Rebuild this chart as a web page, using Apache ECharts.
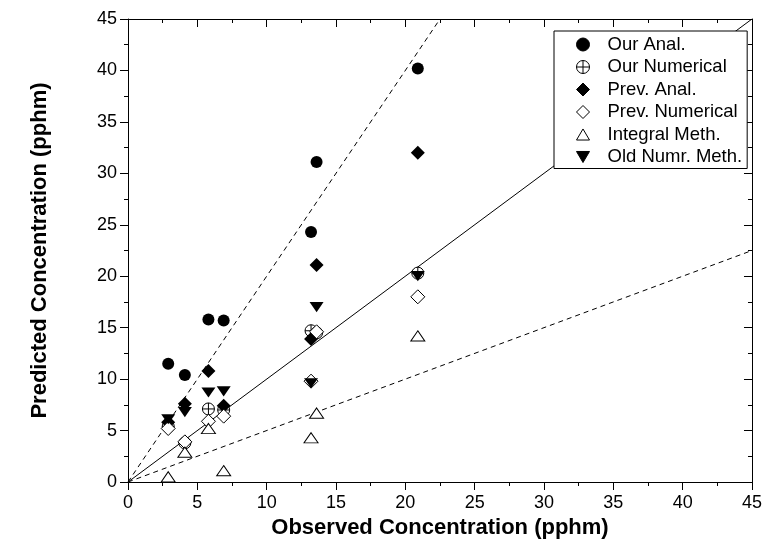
<!DOCTYPE html>
<html>
<head>
<meta charset="utf-8">
<script src="https://cdn.jsdelivr.net/npm/echarts@6/dist/echarts.min.js"></script>
<style>
html,body{margin:0;padding:0;background:#fff;}
#chart{width:765px;height:553px;}
</style>
</head>
<body>
<div id="chart"></div>
<script>
// ---- data ----
const seriesNames = ['Our Anal.', 'Our Numerical', 'Prev. Anal.', 'Prev. Numerical', 'Integral Meth.', 'Old Numr. Meth.'];
const observed = [2.9, 4.1, 5.8, 6.9, 13.2, 13.6, 20.9];
const ourAnal      = [11.5, 10.4, 15.8, 15.7, 24.3, 31.1, 40.2];
const ourNumerical = [5.4, 3.8, 7.1, 7.0, 14.7, 14.5, 20.3];
const prevAnal     = [5.8, 7.6, 10.8, 7.4, 13.9, 21.1, 32.0];
const prevNumerical= [5.2, 3.9, 5.9, 6.4, 9.8, 14.6, 18.0];
const integralMeth = [0.5, 2.9, 5.2, 1.1, 4.3, 6.7, 14.2];
const oldNumr      = [6.1, 6.8, 8.7, 8.8, 9.6, 17.0, 20.0];
const axisTicks = [0, 5, 10, 15, 20, 25, 30, 35, 40, 45];
const lineSolid  = [[0, 0], [45, 45]];
const lineUpper  = [[0, 0], [22.5, 45]];
const lineLower  = [[0, 0], [45, 22.5]];

const FONT = 'Arial, "Liberation Sans", sans-serif';
const pairs = ys => observed.map((x, i) => [x, ys[i]]);

const crossCircle = 'path://M0,10 A10,10 0 1,0 20,10 A10,10 0 1,0 0,10 Z M10,0 L10,20 M0,10 L20,10';
const invTri = 'path://M0,0 L20,0 L10,17 Z';
const upTri = 'path://M10,0 L20,17 L0,17 Z';
const diamondP = 'path://M10,0 L20,10 L10,20 L0,10 Z';
const circleP = 'path://M0,10 A10,10 0 1,0 20,10 A10,10 0 1,0 0,10 Z';

const filled = {color: '#000', borderColor: '#000', borderWidth: 0, opacity: 1};
const open = {color: '#fff', borderColor: '#000', borderWidth: 1, opacity: 1};

function scatter(name, ys, symbol, size, style) {
  return {
    name: name, type: 'scatter', data: pairs(ys),
    symbol: symbol, symbolSize: size, symbolKeepAspect: true,
    itemStyle: style, emphasis: {disabled: true}, z: 3
  };
}
function refLine(data, dashed) {
  return {
    type: 'line', data: data, showSymbol: false, symbol: 'none', silent: true,
    lineStyle: {color: '#000', width: 1, type: dashed ? [5, 4] : 'solid'},
    z: 2, animation: false
  };
}

const axisCommon = {
  min: 0, max: 45, interval: 5,
  axisLine: {show: true, onZero: false, lineStyle: {color: '#000', width: 1}},
  splitLine: {show: false},
  minorTick: {show: true, splitNumber: 2, length: 4, lineStyle: {color: '#000'}},
  minorSplitLine: {show: false}
};

const chart = echarts.init(document.getElementById('chart'), null, {renderer: 'canvas'});
chart.setOption({
  animation: false,
  backgroundColor: '#fff',
  grid: {left: 128, right: 9, top: 19, bottom: 71, containLabel: false},
  xAxis: [
    Object.assign({}, axisCommon, {
      type: 'value', position: 'bottom',
      axisTick: {show: true, inside: false, length: 8, lineStyle: {color: '#000'}},
      axisLabel: {color: '#000', fontSize: 18, fontFamily: FONT, margin: 12,
        formatter: v => axisTicks.indexOf(v) >= 0 ? String(v) : ''},
      name: 'Observed Concentration (pphm)', nameLocation: 'middle', nameGap: 31,
      nameTextStyle: {color: '#000', fontSize: 22, fontWeight: 'bold', fontFamily: FONT}
    }),
    Object.assign({}, axisCommon, {
      type: 'value', position: 'top',
      axisTick: {show: true, inside: true, length: 8, lineStyle: {color: '#000'}},
      minorTick: {show: true, splitNumber: 2, length: 4, lineStyle: {color: '#000'}},
      axisLabel: {show: false}
    })
  ],
  yAxis: [
    Object.assign({}, axisCommon, {
      type: 'value', position: 'left',
      axisTick: {show: true, inside: false, length: 8, lineStyle: {color: '#000'}},
      axisLabel: {color: '#000', fontSize: 18, fontFamily: FONT, margin: 11},
      name: 'Predicted Concentration (pphm)', nameLocation: 'middle', nameGap: 77,
      nameTextStyle: {color: '#000', fontSize: 22, fontWeight: 'bold', fontFamily: FONT}
    }),
    Object.assign({}, axisCommon, {
      type: 'value', position: 'right',
      axisTick: {show: true, inside: true, length: 8, lineStyle: {color: '#000'}},
      axisLabel: {show: false}
    })
  ],
  legend: {
    show: true,
    data: seriesNames,
    orient: 'vertical',
    left: 554, top: 31,
    padding: [4, 5, 2, 22],
    itemGap: 3.5,
    itemWidth: 13, itemHeight: 13,
    backgroundColor: '#fff',
    borderColor: '#000', borderWidth: 1,
    selectedMode: false,
    itemStyle: {borderWidth: 1},
    textStyle: {color: '#000', fontSize: 18.5, fontFamily: FONT, padding: [0, 0, 0, 13]}
  },
  series: [
    refLine(lineSolid, false),
    refLine(lineUpper, true),
    refLine(lineLower, true),
    scatter(seriesNames[0], ourAnal, circleP, 12, filled),
    scatter(seriesNames[1], ourNumerical, crossCircle, 12, open),
    scatter(seriesNames[2], prevAnal, diamondP, 14, filled),
    scatter(seriesNames[3], prevNumerical, diamondP, 14, open),
    scatter(seriesNames[4], integralMeth, upTri, [14, 12], open),
    scatter(seriesNames[5], oldNumr, invTri, [14, 12], filled)
  ]
});
</script>
</body>
</html>
